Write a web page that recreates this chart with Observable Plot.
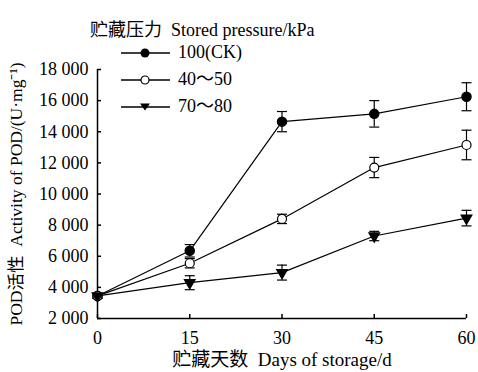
<!DOCTYPE html>
<html><head><meta charset="utf-8">
<script src="https://cdn.jsdelivr.net/npm/d3@7"></script>
<script src="https://cdn.jsdelivr.net/npm/@observablehq/plot@0.6"></script>
<style>
body{margin:0;background:#fff;}
#wrap{position:relative;width:478px;height:372px;font-family:"Liberation Serif","Times New Roman","Noto Sans CJK SC",serif;color:#000;}
.lg{position:absolute;font-size:18px;line-height:18px;white-space:pre;}
.sym{position:absolute;}
</style></head><body><div id="wrap"></div>
<script>
const days = [0, 15, 30, 45, 60];
const seriesNames = ["100(CK)", "40～50", "70～80"];
const ckValues = [3450, 6350, 14650, 15150, 16250];
const ckErrors = [150, 400, 650, 850, 900];
const p4050Values = [3450, 5550, 8400, 11700, 13150];
const p4050Errors = [150, 300, 300, 650, 950];
const p7080Values = [3450, 4300, 4950, 7300, 8450];
const p7080Errors = [150, 450, 480, 300, 500];
const yTicks = [2000, 4000, 6000, 8000, 10000, 12000, 14000, 16000, 18000];
const legendTitle = "贮藏压力  Stored pressure/kPa";
const xLabel = "贮藏天数  Days of storage/d";
const yLabel = "POD活性  Activity of POD/(U·mg⁻¹)";

const values = [ckValues, p4050Values, p7080Values];
const errors = [ckErrors, p4050Errors, p7080Errors];
const rows = [];
seriesNames.forEach((s, i) => days.forEach((d, j) => rows.push({series: s, idx: i, day: d, value: values[i][j], err: errors[i][j]})));

const cap = {draw(ctx, size) { const w = Math.sqrt(size / Math.PI); ctx.moveTo(-w, 0); ctx.lineTo(w, 0); }};
const fmt = d => d3.format(",")(d).replace(/,/g, " ");
const font = '"Liberation Serif","Times New Roman","Noto Sans CJK SC",serif';

const chart = Plot.plot({
  width: 478, height: 372,
  marginLeft: 97, marginRight: 12, marginTop: 69, marginBottom: 54,
  style: {fontFamily: font, fontSize: "18px", color: "#000", background: "#fff"},
  x: {domain: [0, 60]},
  y: {domain: [2000, 18000]},
  marks: [
    Plot.axisX({ticks: days, tickSize: -4, tickPadding: 17, label: null, fontSize: 18, strokeWidth: 1.5}),
    Plot.axisX({ticks: [], label: xLabel, labelAnchor: "center", labelArrow: "none", labelOffset: 47, fontSize: 19}),
    Plot.axisY({ticks: yTicks, tickSize: -4, tickPadding: 13, tickFormat: fmt, label: null, fontSize: 18, strokeWidth: 1.5}),
    Plot.axisY({ticks: [], label: yLabel, labelAnchor: "center", labelArrow: "none", labelOffset: 88, fontSize: 17.5}),
    Plot.ruleX([0], {stroke: "#000", strokeWidth: 1.5}),
    Plot.ruleY([2000], {stroke: "#000", strokeWidth: 1.5}),
    Plot.ruleX(rows, {x: "day", y1: d => d.value - d.err, y2: d => d.value + d.err, stroke: "#000", strokeWidth: 1.2}),
    Plot.dot(rows, {x: "day", y: d => d.value + d.err, symbol: cap, r: 5, stroke: "#000", strokeWidth: 1.2}),
    Plot.dot(rows, {x: "day", y: d => d.value - d.err, symbol: cap, r: 5, stroke: "#000", strokeWidth: 1.2}),
    Plot.line(rows, {x: "day", y: "value", z: "series", stroke: "#000", strokeWidth: 1.2}),
    Plot.dot(rows.filter(d => d.idx === 0), {x: "day", y: "value", r: 4.5, fill: "#000", stroke: "#000", symbol: "circle"}),
    Plot.dot(rows.filter(d => d.idx === 1), {x: "day", y: "value", r: 4.5, fill: "#fff", stroke: "#000", strokeWidth: 1.2, symbol: "circle"}),
    Plot.dot(rows.filter(d => d.idx === 2), {x: "day", y: "value", r: 3.8, fill: "#000", stroke: "#000", symbol: "triangle", rotate: 180})
  ]
});
const wrap = document.getElementById("wrap");
wrap.appendChild(chart);

// legend
const t = document.createElement("div");
t.className = "lg"; t.style.left = "90px"; t.style.top = "21px"; t.textContent = legendTitle;
wrap.appendChild(t);
const rowY = [53, 80, 107];
const symbols = [
  '<circle cx="24" cy="7" r="4.5" fill="#000"/>',
  '<circle cx="24" cy="7" r="4" fill="#fff" stroke="#000" stroke-width="1.2"/>',
  '<path d="M19,3.5L29,3.5L24,10.5Z" fill="#000"/>'
];
seriesNames.forEach((s, i) => {
  const sv = document.createElement("div");
  sv.className = "sym"; sv.style.left = "121px"; sv.style.top = (rowY[i] - 7) + "px";
  sv.innerHTML = '<svg width="50" height="14"><line x1="0" x2="49" y1="7" y2="7" stroke="#000" stroke-width="1.4"/>' + symbols[i] + '</svg>';
  wrap.appendChild(sv);
  const tx = document.createElement("div");
  tx.className = "lg"; tx.style.left = "178px"; tx.style.top = (rowY[i] - 10) + "px"; tx.textContent = s;
  wrap.appendChild(tx);
});
</script></body></html>
